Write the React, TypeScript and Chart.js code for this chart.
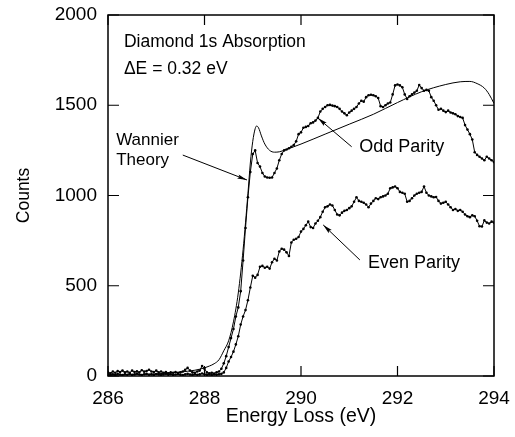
import { useEffect, useRef } from "react";
import { Chart, registerables } from "chart.js";

Chart.register(...registerables);

const energyEv = [
  286.0, 286.05, 286.1, 286.15, 286.2, 286.25, 286.3, 286.35, 286.4, 286.45,
  286.5, 286.55, 286.6, 286.65, 286.7, 286.75, 286.8, 286.85, 286.9, 286.95,
  287.0, 287.05, 287.1, 287.15, 287.2, 287.25, 287.3, 287.35, 287.4, 287.45,
  287.5, 287.55, 287.6, 287.65, 287.7, 287.75, 287.8, 287.85, 287.9, 287.95,
  288.0, 288.05, 288.1, 288.15, 288.2, 288.25, 288.3, 288.35, 288.4, 288.45,
  288.5, 288.55, 288.6, 288.65, 288.7, 288.75, 288.8, 288.85, 288.9, 288.95,
  289.0, 289.05, 289.1, 289.15, 289.2, 289.25, 289.3, 289.35, 289.4, 289.45,
  289.5, 289.55, 289.6, 289.65, 289.7, 289.75, 289.8, 289.85, 289.9, 289.95,
  290.0, 290.05, 290.1, 290.15, 290.2, 290.25, 290.3, 290.35, 290.4, 290.45,
  290.5, 290.55, 290.6, 290.65, 290.7, 290.75, 290.8, 290.85, 290.9, 290.95,
  291.0, 291.05, 291.1, 291.15, 291.2, 291.25, 291.3, 291.35, 291.4, 291.45,
  291.5, 291.55, 291.6, 291.65, 291.7, 291.75, 291.8, 291.85, 291.9, 291.95,
  292.0, 292.05, 292.1, 292.15, 292.2, 292.25, 292.3, 292.35, 292.4, 292.45,
  292.5, 292.55, 292.6, 292.65, 292.7, 292.75, 292.8, 292.85, 292.9, 292.95,
  293.0, 293.05, 293.1, 293.15, 293.2, 293.25, 293.3, 293.35, 293.4, 293.45,
  293.5, 293.55, 293.6, 293.65, 293.7, 293.75, 293.8, 293.85, 293.9, 293.95,
  294.0,
];

const oddParity = [
  20, 15, 25, 18, 28, 22, 30, 20, 25, 18,
  30, 22, 26, 20, 32, 24, 28, 35, 25, 22,
  30, 20, 25, 18, 22, 15, 20, 18, 22, 16,
  20, 25, 35, 45, 30, 20, 18, 25, 30, 55,
  40, 20, 15, 18, 14, 20, 25, 40, 70, 110,
  160, 210, 260, 330, 380, 470, 640, 820, 990, 1130,
  1230, 1250, 1180, 1160, 1125, 1105, 1100, 1098, 1100, 1125,
  1150, 1195, 1230, 1250, 1255, 1262, 1270, 1280, 1300, 1340,
  1350, 1375, 1380, 1385, 1400, 1405, 1415, 1430, 1465, 1480,
  1490, 1500, 1502, 1498, 1495, 1490, 1480, 1465, 1455, 1445,
  1460, 1470, 1480, 1490, 1510, 1525, 1520, 1545, 1555, 1558,
  1555, 1550, 1540, 1495, 1490, 1500, 1510, 1515, 1560, 1610,
  1615, 1610, 1600, 1560, 1535, 1550, 1560, 1570, 1580, 1612,
  1595, 1580, 1585, 1580, 1545, 1525, 1500, 1475, 1480, 1470,
  1462, 1470, 1460, 1455, 1450, 1440, 1435, 1430, 1390, 1365,
  1340, 1310, 1240, 1225, 1215, 1205, 1195, 1215, 1205, 1195,
  1185,
];

const evenParity = [
  8, 5, 10, 6, 12, 8, 5, 10, 7, 12,
  6, 9, 14, 8, 5, 10, 12, 7, 9, 6,
  11, 8, 5, 9, 12, 7, 10, 6, 8, 11,
  7, 5, 9, 12, 8, 6, 10, 7, 9, 14,
  10, 6, 8, 5, 9, 7, 10, 12, 20, 45,
  80, 105, 135, 175, 220, 285, 330, 365, 420, 490,
  555, 545, 560, 605, 610, 600, 605, 595, 630, 650,
  640, 690, 705, 700, 685, 665, 740, 755, 760, 770,
  800, 815, 835, 855, 825, 820, 845, 860, 880, 910,
  935, 940, 950, 945, 920, 895, 890, 905, 915, 920,
  930, 940, 965, 990, 970, 965, 960, 950, 935, 955,
  970, 985, 980, 990, 995, 1000, 1010, 1040, 1045, 1050,
  1040, 1020, 1015, 1010, 965, 970, 985, 1000, 1010, 1015,
  1020, 1050, 1015, 1000, 995, 990, 992, 970, 955, 960,
  965, 950, 935, 920, 925, 915, 920, 910, 895, 885,
  880, 890, 885, 860, 830, 828, 862, 850, 845, 855,
  850,
];

const theoryEv = [
  286.0, 286.5, 287.0, 287.5, 287.8, 288.0, 288.1, 288.2, 288.3, 288.4,
  288.5, 288.6, 288.7, 288.8, 288.9, 288.95, 289.0, 289.05, 289.08, 289.12,
  289.18, 289.25, 289.35, 289.45, 289.55, 289.7, 290.0, 290.5, 291.0, 291.5,
  292.0, 292.5, 293.0, 293.3, 293.5, 293.65, 293.8, 293.9, 294.0,
];
const theoryCounts = [
  5, 7, 12, 22, 32, 45, 55, 68, 90, 140,
  195, 300, 460, 700, 1010, 1180, 1300, 1370, 1385, 1375,
  1330, 1285, 1250, 1240, 1242, 1255, 1285, 1340, 1395, 1450,
  1515, 1575, 1615, 1630, 1632, 1620, 1595, 1560, 1510,
];

const xTicks = [286, 288, 290, 292, 294];
const yTicks = [0, 500, 1000, 1500, 2000];

const FONT = "'Liberation Sans', Arial, sans-serif";

export default function App() {
  const ref = useRef<HTMLCanvasElement | null>(null);

  useEffect(() => {
    if (!ref.current) return;
    const toPts = (xs: number[], ys: number[]) => xs.map((x, i) => ({ x, y: ys[i] }));
    const zeroPad = (s: any) => {
      s.paddingTop = 0;
      s.paddingBottom = 0;
      s.paddingLeft = 0;
      s.paddingRight = 0;
    };

    const decor = {
      id: "decor",
      afterDraw(chart: any) {
        const { ctx, chartArea: a, scales } = chart;
        const xs = scales.x;
        const ys = scales.y;
        const px = (v: number) => xs.getPixelForValue(v);
        const py = (v: number) => ys.getPixelForValue(v);
        ctx.save();
        ctx.strokeStyle = "#000";
        ctx.lineWidth = 1.5;
        ctx.strokeRect(a.left, a.top, a.right - a.left, a.bottom - a.top);
        ctx.lineWidth = 1.2;
        ctx.beginPath();
        xTicks.forEach((t) => {
          const x = px(t);
          ctx.moveTo(x, a.bottom);
          ctx.lineTo(x, a.bottom - 10);
          ctx.moveTo(x, a.top);
          ctx.lineTo(x, a.top + 10);
        });
        yTicks.forEach((t) => {
          const y = py(t);
          ctx.moveTo(a.left, y);
          ctx.lineTo(a.left + 11, y);
          ctx.moveTo(a.right, y);
          ctx.lineTo(a.right - 11, y);
        });
        ctx.stroke();

        ctx.fillStyle = "#000";
        ctx.textBaseline = "middle";
        ctx.textAlign = "left";
        ctx.font = `17.5px ${FONT}`;
        ctx.fillText("Diamond 1s Absorption", px(286.33), py(1850));
        ctx.fillText("\u0394E = 0.32 eV", px(286.33), py(1700));
        ctx.font = `17px ${FONT}`;
        ctx.fillText("Wannier", px(286.17), py(1307));
        ctx.fillText("Theory", px(286.17), py(1197));
        ctx.font = `18px ${FONT}`;
        ctx.textAlign = "center";
        ctx.fillText("Odd Parity", px(292.09), py(1266));
        ctx.fillText("Even Parity", px(292.34), py(626));

        const arrow = (x0: number, y0: number, x1: number, y1: number) => {
          const ax = px(x0), ay = py(y0), bx = px(x1), by = py(y1);
          const ang = Math.atan2(by - ay, bx - ax);
          ctx.lineWidth = 1;
          ctx.beginPath();
          ctx.moveTo(ax, ay);
          ctx.lineTo(bx, by);
          ctx.stroke();
          const L = 10, W = 0.22;
          ctx.beginPath();
          ctx.moveTo(bx, by);
          ctx.lineTo(bx - L * Math.cos(ang - W), by - L * Math.sin(ang - W));
          ctx.lineTo(bx - L * 0.8 * Math.cos(ang), by - L * 0.8 * Math.sin(ang));
          ctx.lineTo(bx - L * Math.cos(ang + W), by - L * Math.sin(ang + W));
          ctx.closePath();
          ctx.fill();
        };
        arrow(287.55, 1224, 288.88, 1086);
        arrow(291.05, 1270, 290.35, 1429);
        arrow(291.22, 643, 290.46, 837);
        ctx.restore();
      },
    };

    const chart = new Chart(ref.current, {
      type: "line",
      data: {
        datasets: [
          {
            label: "Wannier Theory",
            data: toPts(theoryEv, theoryCounts),
            borderColor: "#000",
            borderWidth: 1,
            pointRadius: 0,
            cubicInterpolationMode: "monotone",
            fill: false,
          },
          {
            label: "Odd Parity",
            data: toPts(energyEv, oddParity),
            borderColor: "#000",
            backgroundColor: "#000",
            borderWidth: 1,
            pointRadius: 1.3,
            pointBorderWidth: 0,
            tension: 0,
            fill: false,
          },
          {
            label: "Even Parity",
            data: toPts(energyEv, evenParity),
            borderColor: "#000",
            backgroundColor: "#000",
            borderWidth: 1,
            pointRadius: 1.3,
            pointBorderWidth: 0,
            tension: 0,
            fill: false,
          },
        ],
      },
      options: {
        responsive: false,
        animation: false,
        layout: { padding: { left: 0, top: 15, right: 21, bottom: 0 } },
        plugins: { legend: { display: false }, tooltip: { enabled: false } },
        scales: {
          x: {
            type: "linear",
            min: 286,
            max: 294,
            afterFit: (s: any) => { s.height = 61; zeroPad(s); },
            grid: { display: false, drawTicks: false },
            border: { display: false },
            afterBuildTicks: (s: any) => { s.ticks = xTicks.map((v) => ({ value: v })); },
            ticks: {
              color: "#000",
              font: { family: FONT, size: 19 },
              padding: 11,
              maxRotation: 0,
              callback: (v: any) => String(v),
            },
            title: {
              display: true,
              text: "Energy Loss (eV)",
              color: "#000",
              font: { family: FONT, size: 19.5 },
              padding: { top: 0, bottom: 9 },
            },
          },
          y: {
            type: "linear",
            min: 0,
            max: 2000,
            afterFit: (s: any) => { s.width = 108; zeroPad(s); },
            grid: { display: false, drawTicks: false },
            border: { display: false },
            afterBuildTicks: (s: any) => { s.ticks = yTicks.map((v) => ({ value: v })); },
            ticks: {
              color: "#000",
              font: { family: FONT, size: 19 },
              padding: 11,
              callback: (v: any) => String(v),
            },
            title: {
              display: true,
              text: "Counts",
              color: "#000",
              font: { family: FONT, size: 17.5 },
              padding: { top: 14, bottom: 0 },
            },
          },
        },
      },
      plugins: [decor],
    } as any);
    return () => chart.destroy();
  }, []);

  return (
    <div style={{ position: "fixed", left: 0, top: 0, width: 515, height: 437, background: "#fff" }}>
      <canvas ref={ref} width={515} height={437} style={{ display: "block" }} />
    </div>
  );
}
